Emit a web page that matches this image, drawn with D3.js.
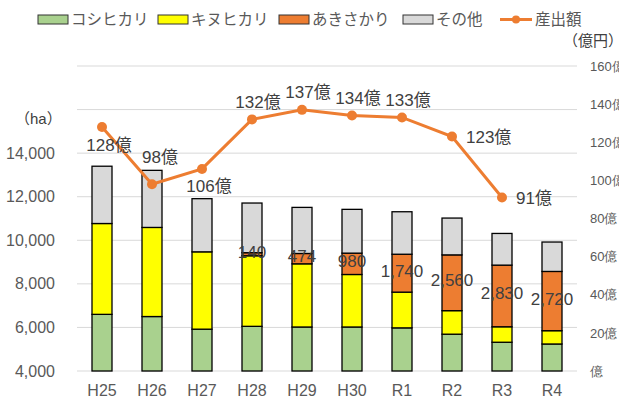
<!DOCTYPE html>
<html>
<head>
<meta charset="utf-8">
<script src="https://cdn.jsdelivr.net/npm/d3@7"></script>
<style>
  body { margin: 0; background: #fff; }
  svg { display: block; font-family: "Liberation Sans", "Noto Sans CJK JP", sans-serif; }
</style>
</head>
<body>
<svg id="chart" width="619" height="403"></svg>
<script>
// areas (ha) and output (億円)
const years = ['H25', 'H26', 'H27', 'H28', 'H29', 'H30', 'R1', 'R2', 'R3', 'R4'];
const koshihikari = [6600, 6500, 5920, 6050, 6020, 6020, 5980, 5690, 5320, 5240];
const kinuhikari = [4170, 4090, 3550, 3240, 2900, 2410, 1640, 1080, 710, 610];
const akisakari = [0, 0, 0, 140, 474, 980, 1740, 2560, 2830, 2720];
const sonota = [2630, 2620, 2440, 2280, 2116, 2010, 1950, 1690, 1454, 1350];
const output = [128, 98, 106, 132, 137, 134, 133, 123, 91, null];
const outputLabelPlace = ['below', 'high', 'below', 'above', 'above', 'above', 'above', 'right', 'right', null];

const leftTicks = [4000, 6000, 8000, 10000, 12000, 14000];
const gridTicks = [4000, 6000, 8000, 10000, 12000, 14000, 16000, 18000];
const rightTicks = [0, 20, 40, 60, 80, 100, 120, 140, 160];

const keys = ['koshihikari', 'kinuhikari', 'akisakari', 'sonota'];
const names = { koshihikari: 'コシヒカリ', kinuhikari: 'キヌヒカリ', akisakari: 'あきさかり', sonota: 'その他' };
const colors = { koshihikari: '#A9D18E', kinuhikari: '#FFFF00', akisakari: '#ED7D31', sonota: '#D9D9D9' };
const lineColor = '#ED7D31';
const textColor = '#595959';

const rows = years.map((y, i) => ({
  year: y,
  koshihikari: koshihikari[i],
  kinuhikari: kinuhikari[i],
  akisakari: akisakari[i],
  sonota: sonota[i],
}));

const svg = d3.select('#chart');
const plot = { left: 77, right: 577, top: 66, bottom: 371 };

const x = d3.scaleBand().domain(years).range([plot.left, plot.right])
  .paddingInner(0.6).paddingOuter(0.3);
const yL = d3.scaleLinear().domain([4000, 18000]).range([plot.bottom, plot.top]);
const yR = d3.scaleLinear().domain([0, 160]).range([plot.bottom, plot.top]);

// gridlines
svg.append('g')
  .selectAll('line')
  .data(gridTicks)
  .enter()
  .append('line')
  .attr('x1', plot.left)
  .attr('x2', plot.right)
  .attr('y1', (d) => yL(d))
  .attr('y2', (d) => yL(d))
  .style('stroke', '#D9D9D9')
  .style('stroke-width', 1);

// left axis
const leftAxis = svg.append('g')
  .attr('transform', `translate(${plot.left - 6},0)`)
  .call(d3.axisLeft(yL).tickValues(leftTicks).tickSize(0).tickPadding(16).tickFormat(d3.format(',')));
leftAxis.select('.domain').remove();
leftAxis.selectAll('text')
  .style('font-size', '16px')
  .style('fill', textColor);

// right axis
const rightAxis = svg.append('g')
  .attr('transform', `translate(${plot.right},0)`)
  .call(d3.axisRight(yR).tickValues(rightTicks).tickSize(0).tickPadding(13)
    .tickFormat((d) => (d ? d + '億' : '億')));
rightAxis.select('.domain').remove();
rightAxis.selectAll('text')
  .style('font-size', '13px')
  .style('fill', textColor);

// x axis labels
const xAxis = svg.append('g')
  .attr('transform', `translate(0,${plot.bottom})`)
  .call(d3.axisBottom(x).tickSize(0).tickPadding(14));
xAxis.select('.domain').remove();
xAxis.selectAll('text')
  .style('font-size', '16px')
  .style('fill', textColor);

// stacked bars
const series = d3.stack().keys(keys)(rows);

svg.append('g')
  .selectAll('g')
  .data(series)
  .enter()
  .append('g')
  .style('fill', (s) => colors[s.key])
  .selectAll('rect')
  .data((s) => s.filter((d) => d[1] - d[0] > 0))
  .enter()
  .append('rect')
  .attr('x', (d) => x(d.data.year))
  .attr('width', x.bandwidth())
  .attr('y', (d) => yL(d[1]))
  .attr('height', (d) => yL(Math.max(d[0], 4000)) - yL(d[1]))
  .style('stroke', '#000')
  .style('stroke-width', 1.3);

// akisakari labels
const akiSeries = series.find((s) => s.key === 'akisakari');
svg.append('g')
  .selectAll('text')
  .data(akiSeries.filter((d) => d[1] - d[0] > 0))
  .enter()
  .append('text')
  .attr('x', (d) => x(d.data.year) + x.bandwidth() / 2)
  .attr('y', (d) => (yL(d[0]) + yL(d[1])) / 2 - 2)
  .attr('text-anchor', 'middle')
  .attr('dominant-baseline', 'central')
  .style('font-size', '17px')
  .style('fill', '#404040')
  .text((d) => d3.format(',')(d.data.akisakari));

// output line
const linePts = years.map((y, i) => ({ year: y, v: output[i], place: outputLabelPlace[i] }))
  .filter((d) => d.v !== null);
const cx = (d) => x(d.year) + x.bandwidth() / 2;

svg.append('path')
  .datum(linePts)
  .attr('d', d3.line().x(cx).y((d) => yR(d.v)))
  .style('fill', 'none')
  .style('stroke', lineColor)
  .style('stroke-width', 3);

svg.append('g')
  .selectAll('circle')
  .data(linePts)
  .enter()
  .append('circle')
  .attr('cx', cx)
  .attr('cy', (d) => yR(d.v))
  .attr('r', 5)
  .style('fill', lineColor);

const labelShift = {
  above: { dx: 6, dy: -17, anchor: 'middle' },
  high: { dx: 8, dy: -27, anchor: 'middle' },
  below: { dx: 7, dy: 18, anchor: 'middle' },
  right: { dx: 14, dy: 1, anchor: 'start' },
};

svg.append('g')
  .selectAll('text')
  .data(linePts)
  .enter()
  .append('text')
  .attr('x', (d) => cx(d) + labelShift[d.place].dx)
  .attr('y', (d) => yR(d.v) + labelShift[d.place].dy)
  .attr('text-anchor', (d) => labelShift[d.place].anchor)
  .attr('dominant-baseline', 'central')
  .style('font-size', '17px')
  .style('fill', '#404040')
  .text((d) => d.v + '億');

// unit labels
svg.append('text')
  .attr('x', 15)
  .attr('y', 118)
  .attr('dominant-baseline', 'central')
  .style('font-size', '15px')
  .style('fill', '#404040')
  .text('（ha）');

svg.append('text')
  .attr('x', 563)
  .attr('y', 40)
  .attr('dominant-baseline', 'central')
  .style('font-size', '15px')
  .style('fill', '#404040')
  .text('（億円）');

// legend
const legendItems = [
  { key: 'koshihikari', x: 38 },
  { key: 'kinuhikari', x: 158 },
  { key: 'akisakari', x: 279 },
  { key: 'sonota', x: 403 },
];
const legend = svg.append('g').attr('class', 'legend');

legend.selectAll('rect')
  .data(legendItems)
  .enter()
  .append('rect')
  .attr('x', (d) => d.x)
  .attr('y', 15)
  .attr('width', 30)
  .attr('height', 9)
  .style('fill', (d) => colors[d.key])
  .style('stroke', '#333')
  .style('stroke-width', 1);

legend.selectAll('text.item')
  .data(legendItems)
  .enter()
  .append('text')
  .attr('class', 'item')
  .attr('x', (d) => d.x + 33)
  .attr('y', 19.5)
  .attr('dominant-baseline', 'central')
  .style('font-size', '15.5px')
  .style('fill', textColor)
  .text((d) => names[d.key]);

legend.append('line')
  .attr('x1', 500)
  .attr('x2', 532)
  .attr('y1', 19.5)
  .attr('y2', 19.5)
  .style('stroke', lineColor)
  .style('stroke-width', 3);

legend.append('circle')
  .attr('cx', 516)
  .attr('cy', 19.5)
  .attr('r', 4)
  .style('fill', lineColor);

legend.append('text')
  .attr('x', 535)
  .attr('y', 19.5)
  .attr('dominant-baseline', 'central')
  .style('font-size', '15.5px')
  .style('fill', textColor)
  .text('産出額');
</script>
</body>
</html>
